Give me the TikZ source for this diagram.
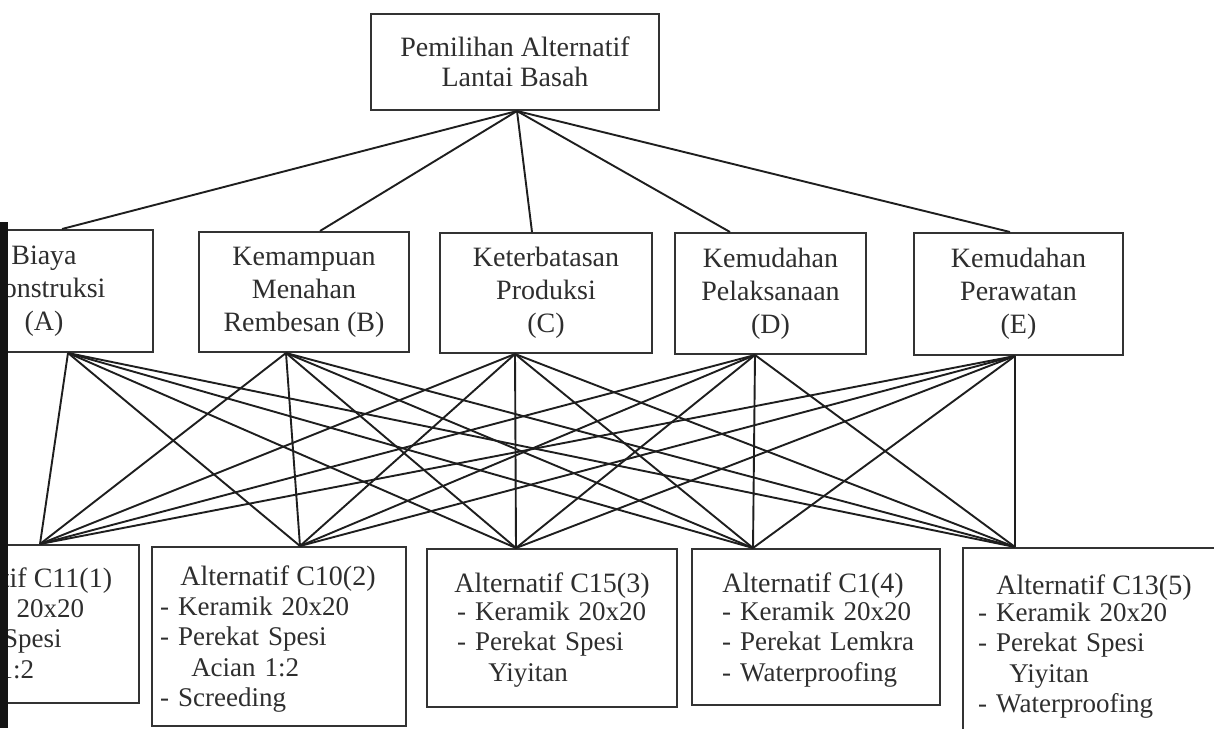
\documentclass[tikz,border=0pt]{standalone}
\usepackage{fontspec}
\setmainfont{Liberation Serif}
\definecolor{inkgray}{HTML}{2E2E2E}
\definecolor{boxgray}{HTML}{333333}
\definecolor{linegray}{HTML}{1E1E1E}
\definecolor{edgebar}{HTML}{141414}
\tikzset{
  box/.style={draw=boxgray, line width=2pt, inner sep=0pt},
  crit/.style={box, align=center, text=inkgray, font=\fontsize{28}{33}\selectfont},
  goal/.style={box, align=center, text=inkgray, font=\fontsize{28}{30}\selectfont},
  link/.style={draw=linegray, line width=1.9pt},
  alttitle/.style={anchor=base, inner sep=0pt, text=inkgray, font=\fontsize{28}{30}\selectfont},
  altitems/.style={anchor=base west, inner sep=0pt, text width=250pt, align=left,
    text=inkgray, font=\fontsize{27}{30.5}\selectfont},
}
\begin{document}
\begin{tikzpicture}[x=1pt, y=-1pt]
\path[use as bounding box, clip] (0,0) rectangle (1214,728);
\fill[white] (0,0) rectangle (1214,728);

% goal
\node[goal, minimum width=288pt, minimum height=96pt] (top) at (515,62)
  {Pemilihan Alternatif\\Lantai Basah};

% criteria
\node[crit, minimum width=218pt, minimum height=122pt] (A) at (44,291)
  {Biaya\\Konstruksi\\(A)};
\node[crit, minimum width=210pt, minimum height=120pt] (B) at (304,292)
  {Kemampuan\\Menahan\\Rembesan (B)};
\node[crit, minimum width=212pt, minimum height=120pt] (C) at (546,293)
  {Keterbatasan\\Produksi\\(C)};
\node[crit, minimum width=191pt, minimum height=121pt] (D) at (770.5,293.5)
  {Kemudahan\\Pelaksanaan\\(D)};
\node[crit, minimum width=209pt, minimum height=122pt] (E) at (1018.5,294)
  {Kemudahan\\Perawatan\\(E)};

% alternatives
\node[box, minimum width=254pt, minimum height=158pt] (alt1) at (12,624) {};
\node[box, minimum width=254pt, minimum height=179pt] (alt2) at (279,636.5) {};
\node[box, minimum width=250pt, minimum height=158pt] (alt3) at (552,628) {};
\node[box, minimum width=248pt, minimum height=156pt] (alt4) at (816,627) {};
\node[box, minimum width=263pt, minimum height=197pt] (alt5) at (1094.5,646.5) {};

\node[alttitle] (t1) at (15,587) {Alternatif C11(1)};
\node[altitems] (i1) at (-105,617)
  {- Keramik 20x20\\- Perekat Spesi\\\hspace*{1.15em}Acian 1:2};
\node[alttitle] (t2) at (278,585) {Alternatif C10(2)};
\node[altitems] (i2) at (160,615)
  {- Keramik 20x20\\- Perekat Spesi\\\hspace*{1.15em}Acian 1:2\\- Screeding};
\node[alttitle] (t3) at (552,592) {Alternatif C15(3)};
\node[altitems] (i3) at (457,620)
  {- Keramik 20x20\\- Perekat Spesi\\\hspace*{1.15em}Yiyitan};
\node[alttitle] (t4) at (813,592) {Alternatif C1(4)};
\node[altitems] (i4) at (722,620)
  {- Keramik 20x20\\- Perekat Lemkra\\- Waterproofing};
\node[alttitle] (t5) at (1094,594) {Alternatif C13(5)};
\node[altitems] (i5) at (978,621)
  {- Keramik 20x20\\- Perekat Spesi\\\hspace*{1.15em}Yiyitan\\- Waterproofing};

% connection points on the box edges
\coordinate (top-out) at ([xshift=2pt]top.south);
\coordinate (A-in) at ([xshift=18pt]A.north);   \coordinate (A-out) at ([xshift=24pt]A.south);
\coordinate (B-in) at ([xshift=16pt]B.north);   \coordinate (B-out) at ([xshift=-18pt]B.south);
\coordinate (C-in) at ([xshift=-14pt]C.north);  \coordinate (C-out) at ([xshift=-31pt]C.south);
\coordinate (D-in) at ([xshift=-40.5pt]D.north);\coordinate (D-out) at ([xshift=-15.5pt]D.south);
\coordinate (E-in) at ([xshift=-8.5pt]E.north); \coordinate (E-out) at ([xshift=-3.5pt]E.south);
\coordinate (alt1-in) at ([xshift=28pt]alt1.north);
\coordinate (alt2-in) at ([xshift=21pt]alt2.north);
\coordinate (alt3-in) at ([xshift=-36pt]alt3.north);
\coordinate (alt4-in) at ([xshift=-63pt]alt4.north);
\coordinate (alt5-in) at ([xshift=-79.5pt]alt5.north);

% goal to criteria
\foreach \c in {A,B,C,D,E}
  \draw[link] (top-out) -- (\c-in);
% every criterion to every alternative
\foreach \c in {A,B,C,D,E}
  \foreach \a in {1,...,5}
    \draw[link] (\c-out) -- (alt\a-in);

% dark strip along the left edge
\fill[edgebar] (0,222) rectangle (8,728);
\end{tikzpicture}
\end{document}
